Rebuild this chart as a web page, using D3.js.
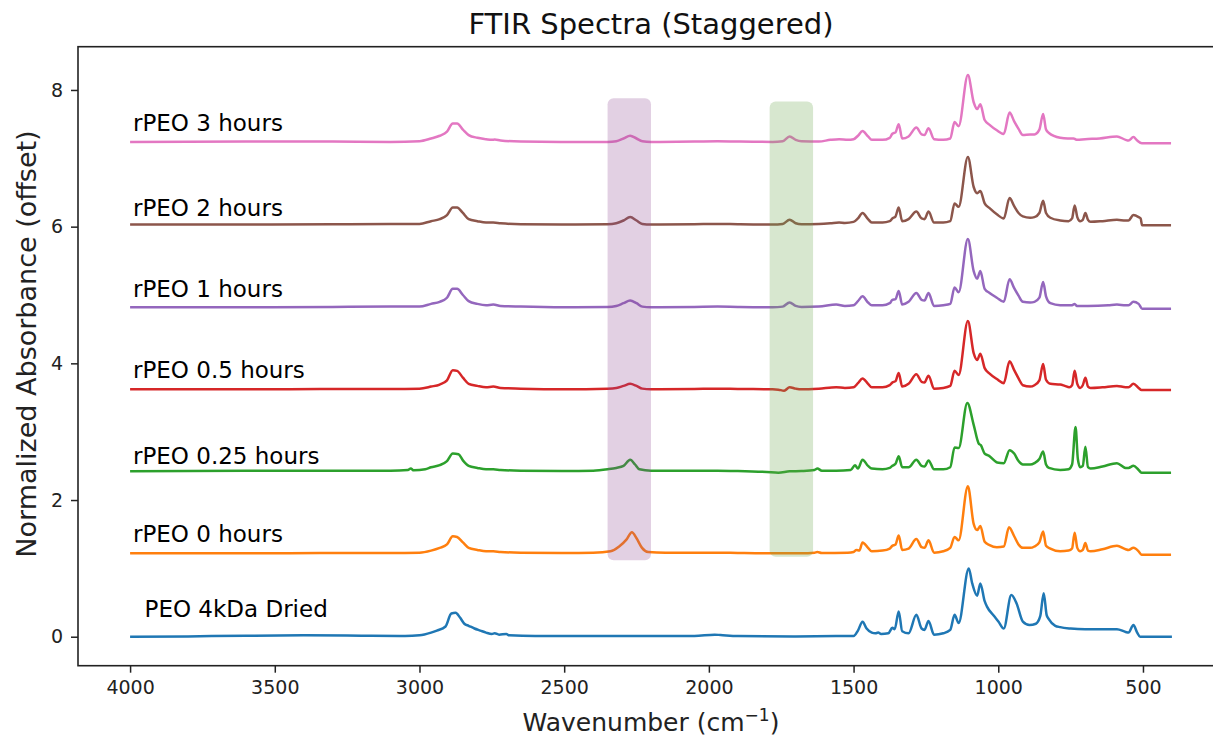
<!DOCTYPE html>
<html>
<head>
<meta charset="utf-8">
<script src="https://cdn.jsdelivr.net/npm/d3@7"></script>
<style>
  html, body { margin: 0; padding: 0; background: #fff; }
  svg { display: block; font-family: "DejaVu Sans", sans-serif; }
</style>
</head>
<body>
<svg id="chart" width="1213" height="737"></svg>
<script>
// ---------------- DATA ----------------
const xTicks = [4000, 3500, 3000, 2500, 2000, 1500, 1000, 500];
const yTicks = [0, 2, 4, 6, 8];

const seriesNames = ["PEO 4kDa Dried", "rPEO 0 hours", "rPEO 0.25 hours", "rPEO 0.5 hours", "rPEO 1 hours", "rPEO 2 hours", "rPEO 3 hours"];
const seriesOffsets = [0, 1.2, 2.4, 3.6, 4.8, 6.0, 7.2];
const seriesColors = ["#1f77b4", "#ff7f0e", "#2ca02c", "#d62728", "#9467bd", "#8c564b", "#e377c2"];
const labelWavenumbers = [3950, 3990, 3990, 3990, 3990, 3990, 3990];
const labelRise = [0.29, 0.19, 0.12, 0.18, 0.17, 0.15, 0.2];

// highlight bands: [wn start, wn end, y bottom, y top]
const bandPurple = [2350, 2200, 1.12, 7.88];
const bandGreen = [1790, 1640, 1.17, 7.83];

// spectra: [wavenumber, normalized absorbance]
const peo4kDried = [[4000,0.0],[3800,0.005],[3600,0.015],[3400,0.02],[3200,0.015],[3050,0.01],[3000,0.02],[2960,0.06],[2940,0.09],[2910,0.15],[2890,0.34],[2875,0.35],[2860,0.28],[2845,0.19],[2830,0.16],[2810,0.12],[2790,0.09],[2770,0.06],[2750,0.04],[2740,0.05],[2725,0.03],[2700,0.04],[2690,0.02],[2600,0.01],[2400,0.01],[2200,0.01],[2050,0.01],[1980,0.03],[1960,0.025],[1900,0.01],[1700,0.005],[1560,0.01],[1500,0.01],[1485,0.09],[1469,0.22],[1455,0.12],[1437,0.06],[1425,0.05],[1415,0.06],[1405,0.04],[1380,0.05],[1366,0.13],[1358,0.11],[1344,0.37],[1332,0.08],[1310,0.05],[1283,0.32],[1265,0.12],[1255,0.1],[1241,0.23],[1222,0.03],[1190,0.05],[1166,0.1],[1151,0.32],[1137,0.2],[1102,1.0],[1090,0.78],[1073,0.6],[1062,0.78],[1047,0.52],[1039,0.44],[1016,0.31],[999,0.22],[981,0.12],[955,0.61],[937,0.49],[915,0.22],[892,0.17],[870,0.19],[855,0.3],[843,0.635],[833,0.32],[826,0.26],[803,0.16],[786,0.14],[750,0.12],[700,0.11],[590,0.11],[560,0.07],[550,0.06],[533,0.17],[520,0.06],[510,0.0],[400,0.0]];

const rpeo0h = [[4000,0.02],[3600,0.02],[3300,0.025],[3100,0.025],[3000,0.03],[2960,0.06],[2930,0.1],[2905,0.15],[2885,0.27],[2870,0.26],[2850,0.18],[2830,0.1],[2800,0.07],[2770,0.05],[2745,0.05],[2720,0.04],[2650,0.03],[2500,0.025],[2400,0.03],[2340,0.05],[2310,0.12],[2285,0.22],[2266,0.33],[2250,0.24],[2231,0.1],[2210,0.04],[2150,0.03],[2050,0.03],[1970,0.03],[1900,0.025],[1800,0.02],[1680,0.02],[1635,0.03],[1625,0.04],[1610,0.025],[1520,0.03],[1500,0.04],[1490,0.07],[1480,0.06],[1469,0.18],[1450,0.1],[1437,0.05],[1400,0.06],[1375,0.09],[1366,0.13],[1355,0.15],[1344,0.28],[1332,0.07],[1310,0.09],[1283,0.23],[1265,0.11],[1255,0.1],[1241,0.21],[1222,0.03],[1190,0.05],[1166,0.1],[1151,0.26],[1137,0.21],[1105,1.0],[1085,0.45],[1073,0.36],[1062,0.42],[1047,0.19],[1030,0.14],[1005,0.11],[981,0.12],[963,0.40],[945,0.27],[930,0.15],[915,0.1],[890,0.1],[875,0.12],[858,0.18],[845,0.34],[835,0.13],[820,0.09],[786,0.05],[757,0.06],[745,0.09],[736,0.32],[727,0.1],[717,0.05],[708,0.07],[699,0.17],[690,0.06],[681,0.05],[640,0.08],[590,0.13],[560,0.08],[550,0.07],[533,0.1],[515,0.05],[505,0.0],[403,0.0]];

const rpeo025h = [[4000,0.02],[3600,0.03],[3300,0.03],[3100,0.03],[3040,0.04],[3030,0.06],[3020,0.035],[2980,0.05],[2960,0.08],[2930,0.11],[2905,0.17],[2885,0.28],[2865,0.27],[2850,0.18],[2830,0.1],[2800,0.07],[2770,0.05],[2745,0.05],[2720,0.04],[2650,0.03],[2500,0.025],[2400,0.03],[2350,0.05],[2320,0.07],[2295,0.1],[2272,0.19],[2255,0.12],[2240,0.05],[2200,0.03],[2050,0.03],[1970,0.03],[1900,0.025],[1800,0.01],[1760,0.0],[1721,0.02],[1680,0.025],[1635,0.04],[1625,0.06],[1610,0.03],[1560,0.03],[1510,0.04],[1495,0.11],[1485,0.06],[1469,0.19],[1450,0.1],[1437,0.06],[1400,0.05],[1375,0.07],[1366,0.1],[1355,0.13],[1344,0.24],[1332,0.08],[1310,0.08],[1283,0.19],[1265,0.1],[1255,0.09],[1241,0.18],[1222,0.05],[1190,0.05],[1166,0.08],[1151,0.37],[1137,0.36],[1107,1.02],[1085,0.70],[1068,0.43],[1060,0.40],[1047,0.28],[1033,0.25],[1004,0.15],[981,0.14],[961,0.33],[945,0.28],[930,0.17],[915,0.12],[890,0.12],[875,0.14],[858,0.2],[845,0.31],[835,0.12],[825,0.07],[786,0.04],[757,0.05],[745,0.12],[733,0.67],[725,0.2],[717,0.08],[708,0.1],[699,0.38],[690,0.08],[681,0.06],[640,0.09],[590,0.14],[560,0.07],[550,0.07],[533,0.1],[515,0.04],[505,0.0],[403,0.0]];

const rpeo05h = [[4000,0.02],[3600,0.02],[3300,0.025],[3100,0.025],[3000,0.03],[2960,0.06],[2930,0.09],[2905,0.15],[2885,0.30],[2870,0.29],[2850,0.19],[2830,0.10],[2800,0.07],[2770,0.05],[2745,0.06],[2720,0.04],[2650,0.03],[2500,0.02],[2350,0.03],[2320,0.04],[2295,0.07],[2272,0.10],[2250,0.07],[2230,0.03],[2200,0.02],[2050,0.025],[1970,0.03],[1900,0.025],[1780,0.02],[1760,0.015],[1740,0.0],[1721,0.05],[1700,0.03],[1680,0.02],[1620,0.03],[1560,0.05],[1530,0.04],[1500,0.05],[1485,0.11],[1469,0.18],[1450,0.1],[1437,0.05],[1400,0.05],[1375,0.08],[1366,0.12],[1355,0.14],[1344,0.26],[1332,0.06],[1310,0.1],[1283,0.24],[1265,0.13],[1255,0.12],[1241,0.22],[1222,0.03],[1190,0.04],[1166,0.07],[1151,0.29],[1137,0.23],[1105,1.02],[1085,0.55],[1073,0.45],[1062,0.54],[1047,0.33],[1030,0.25],[1005,0.17],[981,0.11],[961,0.43],[945,0.3],[930,0.18],[915,0.08],[890,0.06],[875,0.08],[858,0.15],[845,0.39],[835,0.16],[820,0.1],[786,0.09],[770,0.07],[755,0.05],[745,0.08],[736,0.29],[727,0.1],[717,0.04],[708,0.08],[699,0.19],[690,0.06],[681,0.04],[640,0.05],[590,0.07],[560,0.05],[550,0.05],[533,0.10],[515,0.04],[505,0.01],[403,0.01]];

const rpeo1h = [[4000,0.02],[3600,0.02],[3300,0.025],[3100,0.03],[3000,0.03],[2960,0.07],[2930,0.10],[2905,0.16],[2885,0.29],[2870,0.29],[2850,0.20],[2830,0.11],[2800,0.07],[2770,0.05],[2745,0.06],[2720,0.04],[2650,0.03],[2500,0.02],[2350,0.025],[2320,0.04],[2295,0.08],[2272,0.12],[2250,0.08],[2230,0.03],[2200,0.02],[2050,0.025],[1970,0.03],[1900,0.025],[1780,0.02],[1745,0.03],[1721,0.09],[1700,0.04],[1680,0.025],[1620,0.03],[1560,0.06],[1530,0.04],[1500,0.05],[1485,0.11],[1469,0.18],[1450,0.09],[1437,0.05],[1400,0.05],[1375,0.08],[1366,0.13],[1355,0.14],[1344,0.26],[1332,0.06],[1310,0.1],[1283,0.23],[1265,0.13],[1255,0.12],[1241,0.23],[1222,0.04],[1190,0.05],[1166,0.07],[1151,0.31],[1137,0.24],[1105,1.02],[1085,0.55],[1073,0.44],[1062,0.55],[1047,0.29],[1030,0.23],[1005,0.16],[981,0.1],[961,0.43],[945,0.3],[930,0.19],[915,0.1],[890,0.09],[875,0.1],[858,0.16],[845,0.39],[835,0.18],[820,0.08],[786,0.05],[745,0.05],[736,0.07],[728,0.04],[690,0.04],[620,0.05],[590,0.06],[560,0.05],[550,0.05],[533,0.1],[515,0.07],[503,0.0],[403,0.0]];

const rpeo2h = [[4000,0.03],[3600,0.03],[3300,0.035],[3100,0.04],[3000,0.04],[2960,0.08],[2930,0.11],[2905,0.17],[2885,0.28],[2870,0.28],[2850,0.20],[2830,0.11],[2800,0.08],[2770,0.06],[2745,0.06],[2720,0.05],[2650,0.035],[2500,0.03],[2350,0.035],[2320,0.05],[2295,0.09],[2272,0.14],[2250,0.09],[2230,0.04],[2200,0.03],[2050,0.035],[1970,0.04],[1900,0.035],[1780,0.03],[1745,0.04],[1721,0.10],[1700,0.05],[1680,0.035],[1620,0.04],[1580,0.05],[1550,0.06],[1530,0.055],[1500,0.07],[1485,0.12],[1469,0.2],[1450,0.11],[1437,0.06],[1400,0.06],[1375,0.08],[1366,0.12],[1355,0.15],[1344,0.28],[1332,0.08],[1310,0.11],[1283,0.22],[1265,0.12],[1255,0.11],[1241,0.22],[1222,0.06],[1190,0.06],[1166,0.08],[1151,0.34],[1137,0.29],[1105,1.02],[1085,0.58],[1073,0.49],[1062,0.52],[1047,0.34],[1030,0.27],[1005,0.18],[981,0.12],[961,0.42],[945,0.30],[930,0.2],[915,0.15],[890,0.13],[875,0.14],[858,0.2],[845,0.38],[835,0.2],[820,0.13],[786,0.09],[757,0.08],[745,0.12],[736,0.31],[727,0.14],[717,0.08],[708,0.1],[699,0.2],[690,0.1],[681,0.07],[640,0.08],[590,0.10],[560,0.09],[550,0.09],[533,0.17],[515,0.14],[508,0.12],[503,0.02],[403,0.02]];

const rpeo3h = [[4000,0.04],[3600,0.045],[3300,0.045],[3100,0.04],[3000,0.05],[2960,0.09],[2930,0.13],[2905,0.19],[2885,0.31],[2870,0.31],[2850,0.22],[2830,0.14],[2800,0.10],[2770,0.08],[2750,0.07],[2740,0.075],[2720,0.06],[2650,0.045],[2500,0.04],[2350,0.04],[2320,0.05],[2295,0.09],[2272,0.13],[2250,0.09],[2230,0.05],[2200,0.04],[2050,0.045],[1970,0.05],[1900,0.045],[1780,0.04],[1745,0.05],[1721,0.12],[1700,0.07],[1680,0.05],[1620,0.045],[1580,0.07],[1550,0.08],[1520,0.07],[1500,0.08],[1485,0.13],[1469,0.2],[1450,0.12],[1437,0.07],[1400,0.07],[1375,0.1],[1366,0.16],[1355,0.18],[1344,0.30],[1332,0.09],[1310,0.12],[1283,0.25],[1265,0.15],[1255,0.14],[1241,0.24],[1222,0.08],[1190,0.07],[1166,0.09],[1151,0.33],[1137,0.27],[1105,1.02],[1085,0.62],[1073,0.52],[1062,0.59],[1047,0.36],[1030,0.29],[1005,0.21],[981,0.157],[961,0.47],[945,0.34],[930,0.23],[915,0.14],[890,0.15],[875,0.15],[858,0.22],[845,0.45],[835,0.22],[825,0.17],[786,0.10],[760,0.09],[740,0.09],[728,0.07],[700,0.08],[650,0.09],[590,0.12],[560,0.07],[550,0.06],[533,0.11],[520,0.06],[504,0.02],[403,0.02]];

const spectra = [peo4kDried, rpeo0h, rpeo025h, rpeo05h, rpeo1h, rpeo2h, rpeo3h];

// ---------------- CHART ----------------
const svg = d3.select("#chart");
const plotLeft = 78, plotRight = 1224, plotTop = 46.7, plotBottom = 665.7;

const x = d3.scaleLinear().domain([4180, 220]).range([plotLeft, plotRight]);
const y = d3.scaleLinear().domain([-0.424, 8.633]).range([plotBottom, plotTop]);

svg.append("defs").append("clipPath").attr("id", "plotclip")
  .append("rect").attr("x", plotLeft).attr("y", plotTop).attr("width", plotRight - plotLeft).attr("height", plotBottom - plotTop);

const plot = svg.append("g").attr("clip-path", "url(#plotclip)");

const line = d3.line()
  .x(d => x(d[0]))
  .y(d => d[1])
  .curve(d3.curveMonotoneX);

spectra.forEach((s, i) => {
  const pts = s.map(p => [p[0], y(p[1] + seriesOffsets[i])]);
  plot.append("path")
    .attr("d", line(pts))
    .attr("fill", "none")
    .attr("stroke", seriesColors[i])
    .attr("stroke-width", 2.5)
    .attr("stroke-linejoin", "round");
});

// highlight bands (drawn over the lines, translucent)
[[bandPurple, "#8e4a92", 0.26], [bandGreen, "#6aa84f", 0.27]].forEach(([b, c, o]) => {
  plot.append("rect")
    .attr("x", x(b[0]))
    .attr("y", y(b[3]))
    .attr("width", x(b[1]) - x(b[0]))
    .attr("height", y(b[2]) - y(b[3]))
    .attr("rx", 6).attr("ry", 6)
    .attr("fill", c)
    .attr("fill-opacity", o);
});

// labels
seriesNames.forEach((n, i) => {
  svg.append("text")
    .attr("x", x(labelWavenumbers[i]))
    .attr("y", y(seriesOffsets[i] + labelRise[i]))
    .attr("font-size", 23)
    .attr("fill", "#000")
    .text(n);
});

// axes
const xAxis = d3.axisBottom(x).tickValues(xTicks).tickSize(7).tickPadding(8).tickFormat(d3.format("d"));
const gx = svg.append("g").attr("transform", `translate(0,${plotBottom})`).call(xAxis);
gx.select(".domain").remove();
gx.selectAll("line").attr("stroke", "#222").attr("stroke-width", 1.5);
gx.selectAll("text").attr("font-size", 19).attr("fill", "#222").attr("font-family", "DejaVu Sans");

const yAxis = d3.axisLeft(y).tickValues(yTicks).tickSize(7).tickPadding(8).tickFormat(d3.format("d"));
const gy = svg.append("g").attr("transform", `translate(${plotLeft},0)`).call(yAxis);
gy.select(".domain").remove();
gy.selectAll("line").attr("stroke", "#222").attr("stroke-width", 1.5);
gy.selectAll("text").attr("font-size", 19).attr("fill", "#222").attr("font-family", "DejaVu Sans");

// frame
svg.append("rect")
  .attr("x", plotLeft).attr("y", plotTop)
  .attr("width", plotRight - plotLeft).attr("height", plotBottom - plotTop)
  .attr("fill", "none").attr("stroke", "#222").attr("stroke-width", 1.6);

// title
svg.append("text")
  .attr("x", (plotLeft + plotRight) / 2).attr("y", 34)
  .attr("text-anchor", "middle")
  .attr("font-size", 29)
  .attr("fill", "#111")
  .text("FTIR Spectra (Staggered)");

// x label
const xl = svg.append("text")
  .attr("x", (plotLeft + plotRight) / 2).attr("y", 731)
  .attr("text-anchor", "middle")
  .attr("font-size", 25)
  .attr("fill", "#222");
xl.append("tspan").text("Wavenumber (cm");
xl.append("tspan").attr("dy", -10).attr("font-size", 17).text("−1");
xl.append("tspan").attr("dy", 10).text(")");

// y label
svg.append("text")
  .attr("transform", `translate(36,344) rotate(-90)`)
  .attr("text-anchor", "middle")
  .attr("font-size", 27)
  .attr("fill", "#222")
  .text("Normalized Absorbance (offset)");
</script>
</body>
</html>
